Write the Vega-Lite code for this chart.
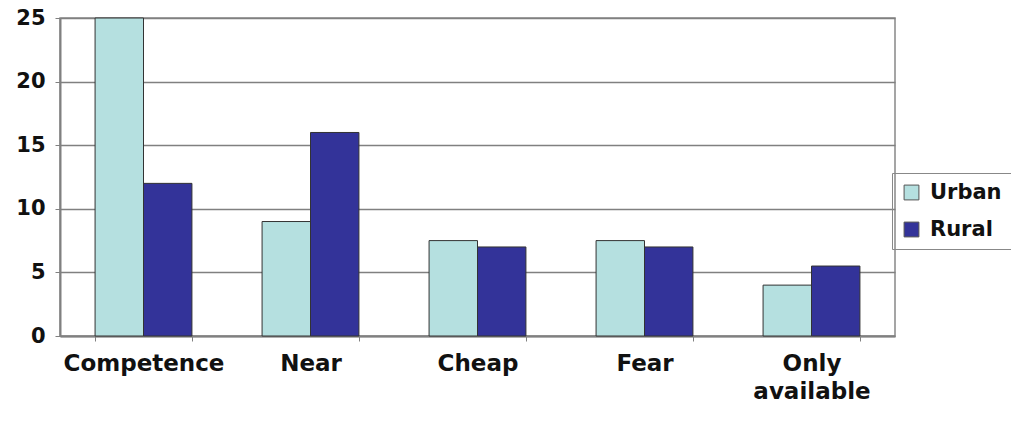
{
  "$schema": "https://vega.github.io/schema/vega-lite/v6.json",
  "width": 835,
  "height": 318,
  "autosize": {"type": "none"},
  "padding": {"left": 60, "top": 18, "right": 116, "bottom": 89},
  "background": "white",
  "data": {
    "values": [
      {"reason": "Competence", "area": "Urban", "value": 25},
      {"reason": "Competence", "area": "Rural", "value": 12},
      {"reason": "Near", "area": "Urban", "value": 9},
      {"reason": "Near", "area": "Rural", "value": 16},
      {"reason": "Cheap", "area": "Urban", "value": 7.5},
      {"reason": "Cheap", "area": "Rural", "value": 7},
      {"reason": "Fear", "area": "Urban", "value": 7.5},
      {"reason": "Fear", "area": "Rural", "value": 7},
      {"reason": "Only available", "area": "Urban", "value": 4},
      {"reason": "Only available", "area": "Rural", "value": 5.5}
    ]
  },
  "mark": {"type": "bar", "stroke": "#333333", "strokeWidth": 1},
  "encoding": {
    "x": {
      "field": "reason",
      "type": "nominal",
      "sort": ["Competence", "Near", "Cheap", "Fear", "Only available"],
      "scale": {"paddingInner": 0.42, "paddingOuter": 0.21},
      "axis": {
        "title": null,
        "labelAngle": 0,
        "tickBand": "extent",
        "tickSize": 5,
        "tickColor": "#808080",
        "domainColor": "#808080",
        "domainWidth": 2,
        "labelPadding": 11,
        "labelFont": "DejaVu Sans",
        "labelFontWeight": "bold",
        "labelFontSize": 23,
        "labelColor": "#111111",
        "labelLineHeight": 28,
        "labelExpr": "datum.label == 'Only available' ? ['Only', 'available'] : datum.label"
      }
    },
    "xOffset": {"field": "area", "type": "nominal", "sort": ["Urban", "Rural"], "scale": {"paddingInner": 0}},
    "y": {
      "field": "value",
      "type": "quantitative",
      "scale": {"domain": [0, 25]},
      "axis": {
        "title": null,
        "values": [0, 5, 10, 15, 20, 25],
        "tickSize": 5,
        "tickColor": "#808080",
        "domainColor": "#808080",
        "domainWidth": 2,
        "gridColor": "#808080",
        "gridWidth": 1.5,
        "labelPadding": 10,
        "labelFont": "DejaVu Sans",
        "labelFontWeight": "bold",
        "labelFontSize": 21,
        "labelColor": "#111111"
      }
    },
    "color": {
      "field": "area",
      "type": "nominal",
      "sort": ["Urban", "Rural"],
      "scale": {"domain": ["Urban", "Rural"], "range": ["#b5e0e0", "#333399"]},
      "legend": {
        "title": null,
        "orient": "none",
        "legendX": 832,
        "legendY": 155,
        "symbolType": "square",
        "symbolSize": 220,
        "symbolStrokeColor": "#555555",
        "symbolStrokeWidth": 1,
        "labelFont": "DejaVu Sans",
        "labelFontWeight": "bold",
        "labelFontSize": 21,
        "labelColor": "#111111",
        "labelOffset": 8,
        "rowPadding": 15,
        "padding": 9,
        "strokeColor": "#888888"
      }
    }
  },
  "config": {
    "view": {"stroke": "#888888", "strokeWidth": 1.5}
  }
}
